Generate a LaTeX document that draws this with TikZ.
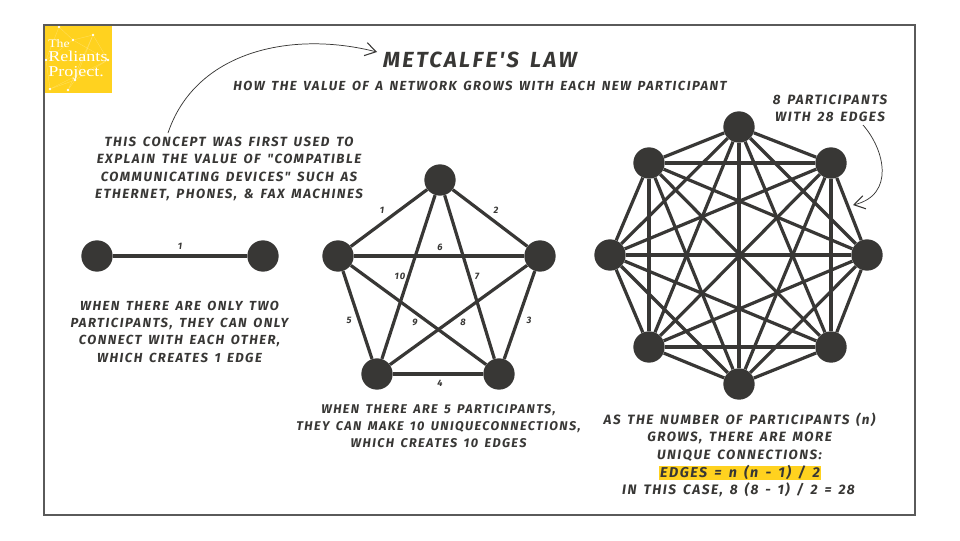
\documentclass[tikz,border=0pt]{standalone}
\usepackage{fontspec}
\setmainfont{Fira Sans}
\newfontfamily\hand[LetterSpace=11,WordSpace=1.5]{Fira Sans}[UprightFont=* Bold Italic]
\newfontfamily\logofont[FakeStretch=1.2]{Liberation Serif}
\usetikzlibrary{arrows.meta}
\definecolor{ink}{HTML}{383735}
\definecolor{frameC}{HTML}{5A5A5A}
\definecolor{sun}{HTML}{FFD21F}
\tikzset{
 x=0.75pt,y=-0.75pt,
 vertex/.style={circle,fill=ink,draw=none,minimum size=23.5pt,inner sep=0pt},
 edgeline/.style={draw=ink,line width=2.4pt},
 callout/.style={draw=ink,line width=0.55pt,-{Straight Barb[length=8pt,width=10pt,line width=0.8pt]}},
 txt/.style={text=ink,align=center,font=\hand\fontsize{#1}{13}\selectfont,inner sep=0pt},
 smalltxt/.style={text=ink,font=\hand\fontsize{7}{8}\selectfont,inner sep=0pt},
 logotxt/.style={anchor=west,align=left,inner sep=0pt,text=white,font=\logofont\fontsize{11.3}{11}\selectfont},
 logoline/.style={draw=white,opacity=.25,line width=.3pt},
 logodot/.style={circle,fill=white,inner sep=0pt,minimum size=2.2pt},
}
\begin{document}
\begin{tikzpicture}
\useasboundingbox (0,0) rectangle (960,540);
\fill[white] (0,0) rectangle (960,540);
\draw[frameC,line width=0.9pt] (44,25) rectangle (915,515);
% logo
\fill[sun] (45,26) rectangle (112,93);
\begin{scope}
\clip (45,26) rectangle (112,93);
\node[logodot] (d1) at (59,27) {};
\node[logodot] (d2) at (73,40) {};
\node[logodot] (d3) at (93,35) {};
\node[logodot] (d4) at (46,60) {};
\node[logodot] (d5) at (108,60) {};
\node[logodot] (d6) at (50,89) {};
\node[logodot] (d7) at (68,90) {};
\node[logodot] (d8) at (75,80) {};
\foreach \a/\b in {d1/d2,d2/d3,d2/d4,d3/d5,d4/d6,d6/d8,d7/d8,d8/d5,d3/d8,d1/d4,d2/d5,d6/d5,d7/d3}
  {\draw[logoline] (\a) -- (\b);}
\end{scope}
\node[logotxt] (logo) at (48,59.5) {{\fontsize{8.6}{11}\selectfont The}\\Reliants\\Project.};
% titles
\node[txt=16.4] (title) at (480,60) {METCALFE'S LAW};
\node[txt=9.85] (sub) at (480,86) {HOW THE VALUE OF A NETWORK GROWS WITH EACH NEW PARTICIPANT};
% callouts
\node[txt=10] (concept) at (229,169) {THIS CONCEPT WAS FIRST USED TO\\EXPLAIN THE VALUE OF "COMPATIBLE\\COMMUNICATING DEVICES" SUCH AS\\ETHERNET, PHONES, \& FAX MACHINES};
\coordinate (c1) at (168,133);
\coordinate (c2) at (377,52);
\draw[callout] (c1) .. controls (195,52) and (290,30) .. (c2);
\node[txt=10.1] (eight) at (830,108.5) {8 PARTICIPANTS\\WITH 28 EDGES};
\coordinate (e1) at (863,125);
\coordinate (e2) at (853,205);
\draw[callout] (e1) .. controls (885,150) and (895,195) .. (e2);
% two-node
\node[vertex] (a1) at (97,256) {};
\node[vertex] (a2) at (263,256) {};
\draw[edgeline] (a1) -- (a2);
\node[smalltxt] (l0) at (180,246) {1};
\node[txt=9.85] (two) at (179.5,331.5) {WHEN THERE ARE ONLY TWO\\PARTICIPANTS, THEY CAN ONLY\\CONNECT WITH EACH OTHER,\\WHICH CREATES 1 EDGE};
% five-node
\node[vertex] (p1) at (440,180) {};
\node[vertex] (p2) at (540,256) {};
\node[vertex] (p3) at (499,374) {};
\node[vertex] (p4) at (377,374) {};
\node[vertex] (p5) at (338,256) {};
\foreach \a/\b in {p1/p2,p1/p3,p1/p4,p1/p5,p2/p3,p2/p4,p2/p5,p3/p4,p3/p5,p4/p5}
  {\draw[edgeline] (\a) -- (\b);}
\foreach \n/\lab/\px/\py in {m1/1/382/210,m2/2/496/210,m3/3/529/320,m4/4/440/383,m5/5/349/320,m6/6/440/247,m7/7/477/276,m8/8/463/322,m9/9/415/322,m10/10/400/276}
  {\node[smalltxt] (\n) at (\px,\py) {\lab};}
\node[txt=9.5] (five) at (438.5,426) {WHEN THERE ARE 5 PARTICIPANTS,\\THEY CAN MAKE 10 UNIQUECONNECTIONS,\\WHICH CREATES 10 EDGES};
% eight-node
\node[vertex] (q1) at (739,127) {};
\node[vertex] (q2) at (831,163) {};
\node[vertex] (q3) at (867,255) {};
\node[vertex] (q4) at (831,347) {};
\node[vertex] (q5) at (739,384) {};
\node[vertex] (q6) at (649,347) {};
\node[vertex] (q7) at (610,255) {};
\node[vertex] (q8) at (649,163) {};
\foreach \a in {1,...,8} {
  \foreach \b in {1,...,8} {
    \ifnum\a<\b \draw[edgeline] (q\a) -- (q\b); \fi
  }
}
% formula
\node[txt=10.1] (as) at (739.5,437) {AS THE NUMBER OF PARTICIPANTS (n)\\GROWS, THERE ARE MORE\\UNIQUE CONNECTIONS:};
\fill[sun] (659,466) rectangle (821,479.5);
\node[txt=10.7] (formula) at (740,472.5) {EDGES = n (n - 1) / 2};
\node[txt=10.3] (case) at (738.5,489.5) {IN THIS CASE, 8 (8 - 1) / 2 = 28};
\end{tikzpicture}
\end{document}
